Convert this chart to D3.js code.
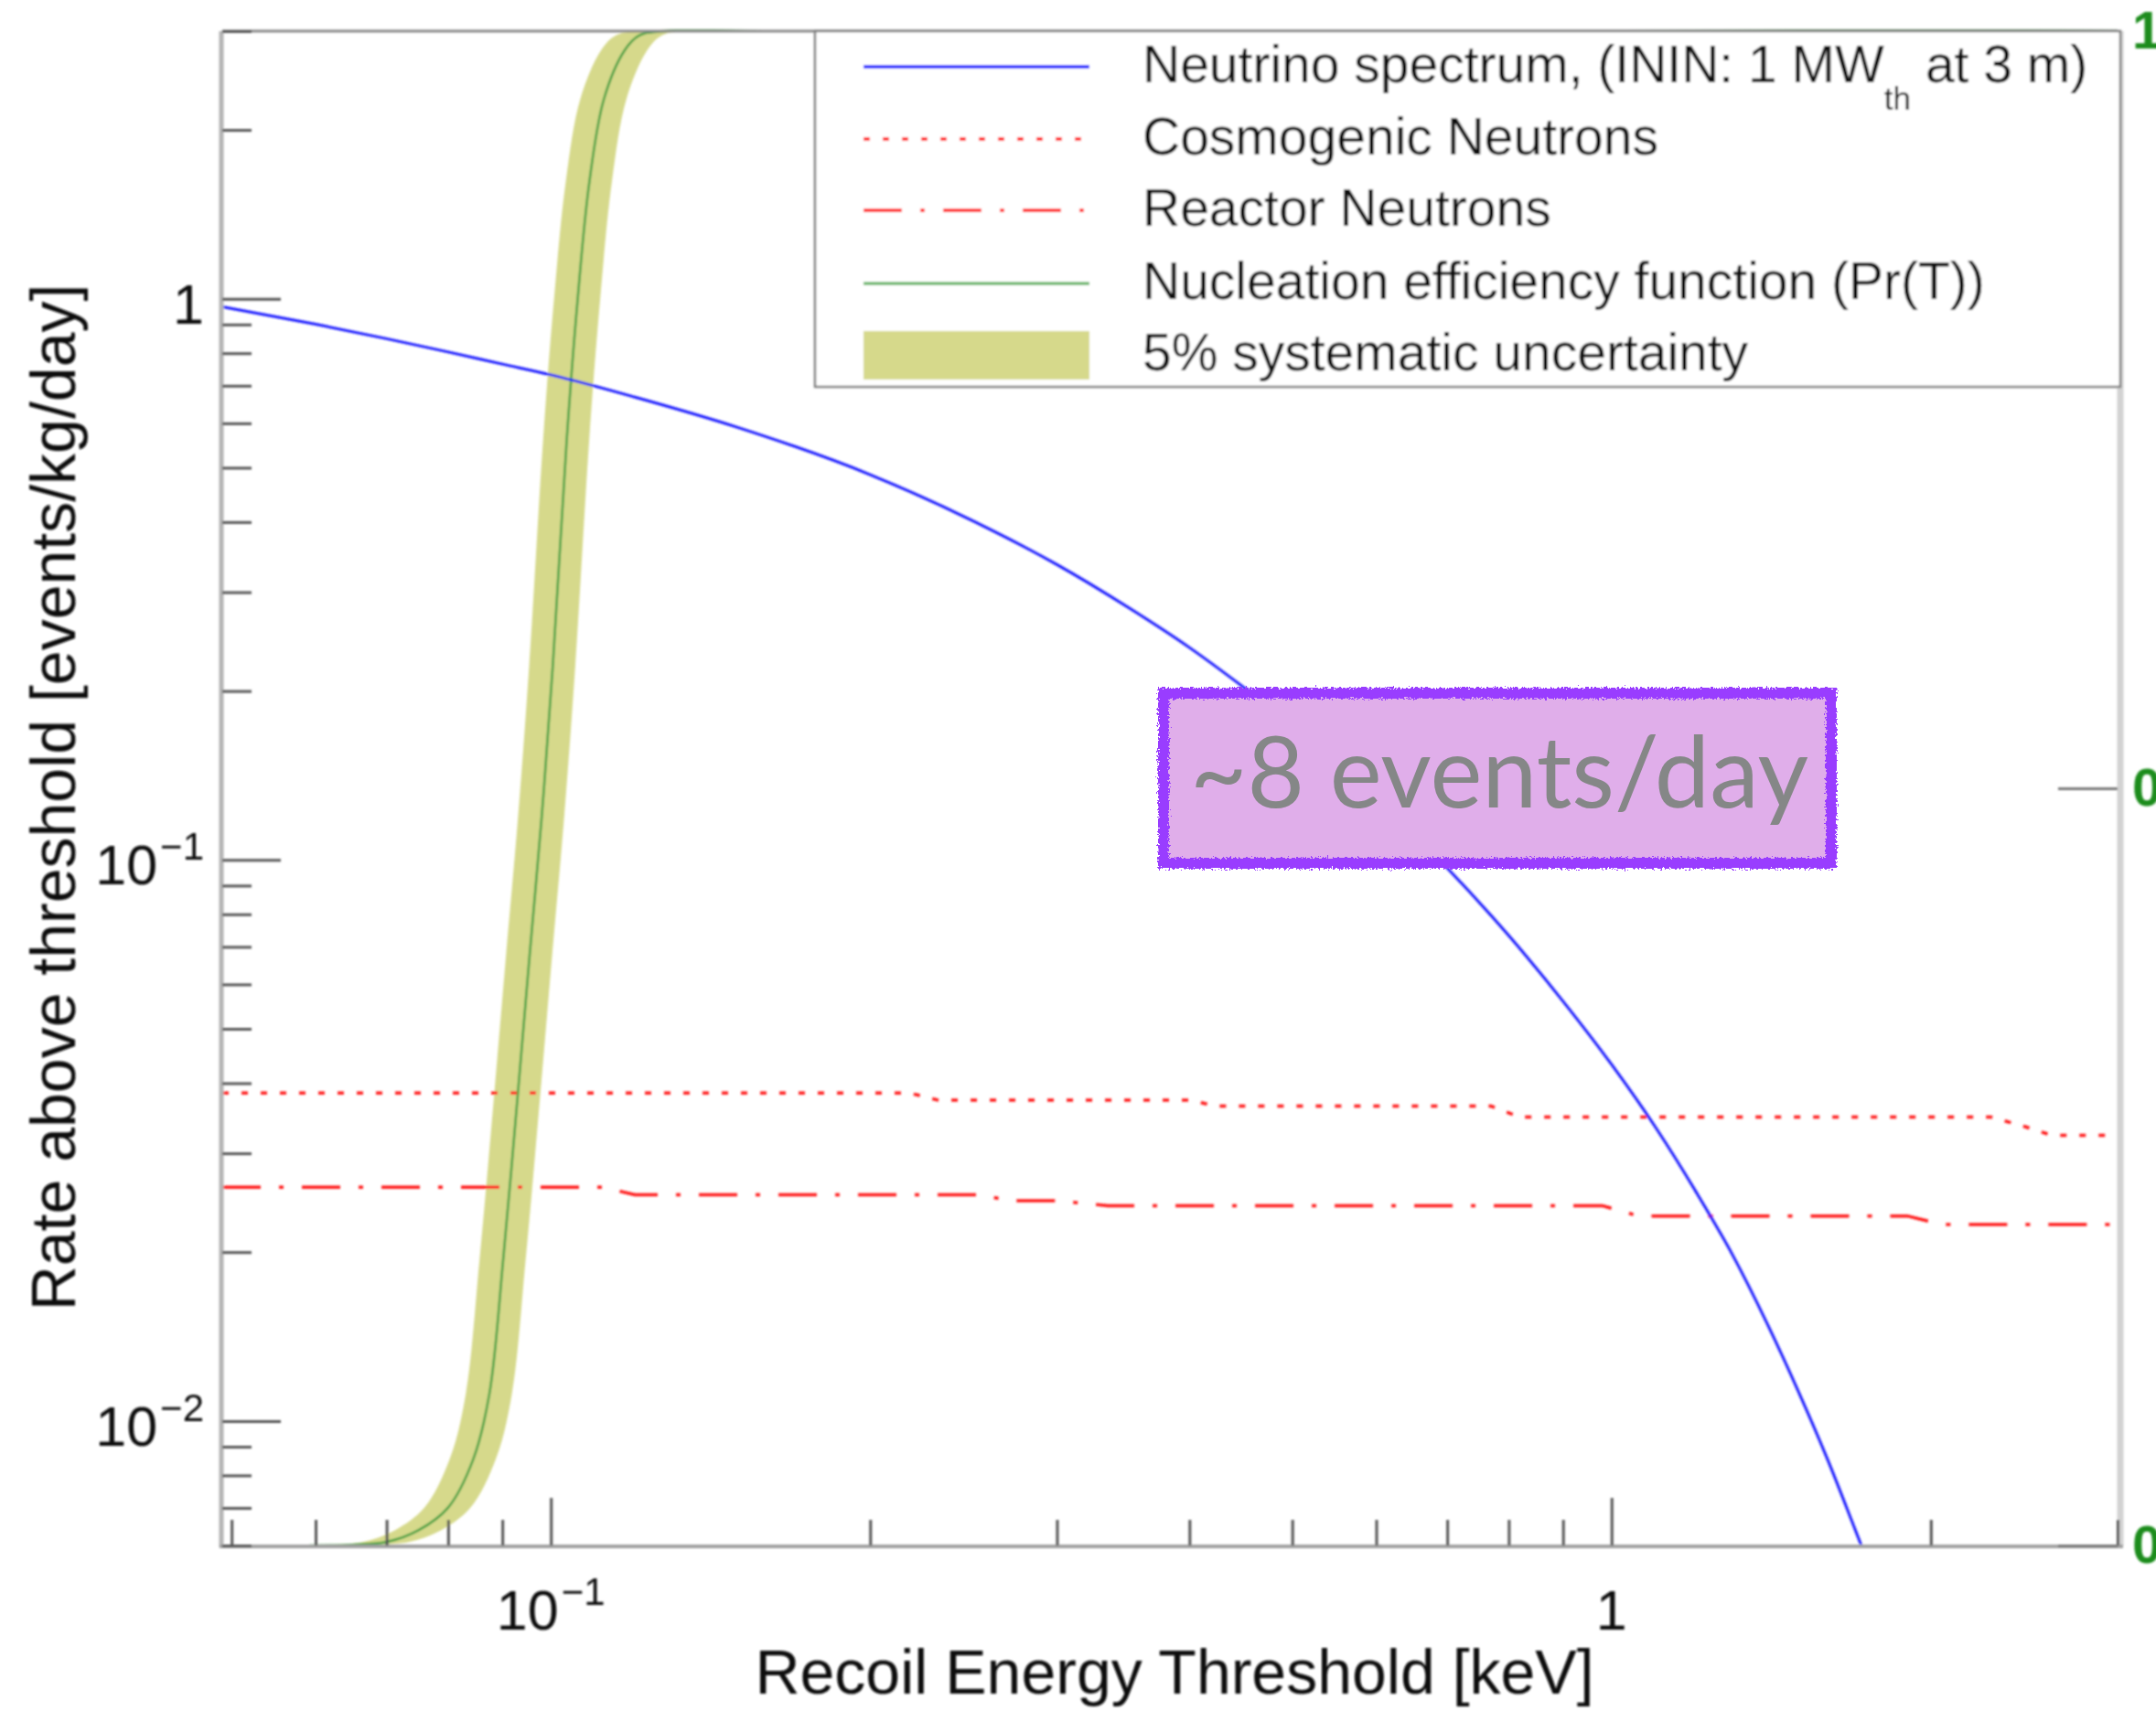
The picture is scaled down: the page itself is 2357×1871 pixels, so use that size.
<!DOCTYPE html>
<html><head><meta charset="utf-8">
<script src="https://cdn.jsdelivr.net/npm/d3@7"></script>
<style>html,body{margin:0;padding:0;background:#fff;} svg{display:block;}</style>
</head><body>
<script>
// ---------- data ----------
const nuEnergy = [0.049,0.06,0.07,0.08,0.09,0.1,0.12,0.15,0.2,0.25,0.3,0.35,0.4,0.45,0.5,0.6,0.7,0.8,0.9,1.0,1.1,1.2,1.3,1.4,1.5,1.6,1.7,1.72];
const nuRate   = [0.968,0.901,0.849,0.804,0.765,0.732,0.668,0.590,0.486,0.402,0.336,0.282,0.239,0.203,0.174,0.1285,0.0967,0.0733,0.0560,0.0432,0.0334,0.0257,0.0198,0.0150,0.0113,0.0085,0.00635,0.0060];

const cosmoEnergy = [0.049,0.218,0.232,0.40,0.425,0.77,0.82,2.28,2.45,2.6,3.0];
const cosmoRate   = [0.0384,0.0384,0.0373,0.0373,0.0364,0.0364,0.0348,0.0348,0.0335,0.0323,0.0323];

const reactorEnergy = [0.049,0.112,0.12,0.255,0.27,0.30,0.335,0.98,1.06,1.9,2.05,3.0];
const reactorRate   = [0.0261,0.0261,0.0253,0.0253,0.0247,0.0247,0.0242,0.0242,0.0232,0.0232,0.0224,0.0224];

// nucleation efficiency Pr(T) (right axis, 0..1)
const prEnergy = [0.0592,0.065,0.0701,0.075,0.080,0.0845,0.0875,0.0902,0.093,0.0955,0.098,0.1004,0.1035,0.1059,0.1087,0.1122,0.1173,0.1211,0.128,3.0];
const prValue  = [0,0.0005,0.0024,0.010,0.025,0.057,0.10,0.19,0.295,0.39,0.48,0.58,0.73,0.82,0.90,0.955,0.987,0.997,1.0,1.0];
// 5% systematic band edges (threshold -5% / +5%)
const bandLowEnergy  = [0.05624,0.06175,0.0666,0.07125,0.076,0.08028,0.08313,0.08569,0.08835,0.09073,0.0931,0.09538,0.09833,0.1006,0.10327,0.10659,0.11144,0.11505,0.1216,2.85];
const bandHighEnergy = [0.06216,0.06825,0.07361,0.07875,0.084,0.08873,0.09188,0.09471,0.09765,0.10028,0.1029,0.10542,0.10868,0.1112,0.11414,0.11781,0.12317,0.12716,0.1344,3.15];

const xMajorTicks = [0.1, 1];
const xMajorBase  = ["10", "1"];
const xMajorExp   = ["\u22121", ""];
const xMinorTicks = [0.05,0.06,0.07,0.08,0.09,0.2,0.3,0.4,0.5,0.6,0.7,0.8,0.9,2,3];
const yMajorTicks = [0.01, 0.1, 1];
const yMajorBase  = ["10", "10", "1"];
const yMajorExp   = ["\u22122", "\u22121", ""];
const yMinorTicks = [0.006,0.007,0.008,0.009,0.02,0.03,0.04,0.05,0.06,0.07,0.08,0.09,0.2,0.3,0.4,0.5,0.6,0.7,0.8,0.9,2,3];
const rightTicks  = [0, 0.5, 1];

const legendLabels = ["Cosmogenic Neutrons","Reactor Neutrons","Nucleation efficiency function (Pr(T))","5% systematic uncertainty"];
const annotationText = "~8 events/day";

// ---------- layout ----------
const W = 2357, H = 1871;
const L = 243, R = 2315, T = 34, B = 1690;
const x  = d3.scaleLog().domain([0.049, 3]).range([L, R]);
const y  = d3.scaleLog().domain([0.006, 3]).range([B, T]);
const yr = d3.scaleLinear().domain([0, 1]).range([B, T]);

const svg = d3.select("body").append("svg").attr("width", W).attr("height", H)
  .style("font-family", "'Liberation Sans', Arial, Helvetica, sans-serif");
svg.append("rect").attr("width", W).attr("height", H).attr("fill", "#fff");

const defs = svg.append("defs");
defs.append("clipPath").attr("id", "plotclip").append("rect")
  .attr("x", L).attr("y", T - 2).attr("width", R - L).attr("height", B - T + 4);
const soft = defs.append("filter").attr("id", "soft").attr("x", "-5%").attr("y", "-5%").attr("width", "110%").attr("height", "110%");
soft.append("feGaussianBlur").attr("stdDeviation", 1.1);
const rough = defs.append("filter").attr("id", "rough").attr("x", "-10%").attr("y", "-20%").attr("width", "120%").attr("height", "140%");
rough.append("feTurbulence").attr("type", "fractalNoise").attr("baseFrequency", 0.45).attr("numOctaves", 2).attr("seed", 3).attr("result", "noise");
rough.append("feDisplacementMap").attr("in", "SourceGraphic").attr("in2", "noise").attr("scale", 8)
  .attr("xChannelSelector", "R").attr("yChannelSelector", "G");

const chart = svg.append("g").attr("filter", "url(#soft)");
const plot = chart.append("g").attr("clip-path", "url(#plotclip)");

// band: left edge up, right edge back down
const edgeLine = d3.line().curve(d3.curveCatmullRom.alpha(0.5));
const leftEdge  = prValue.map((v, i) => [x(bandLowEnergy[i]), yr(v)]);
const rightEdge = prValue.map((v, i) => [x(bandHighEnergy[i]), yr(v)]).reverse();
plot.append("path")
  .attr("d", edgeLine(leftEdge) + "L" + edgeLine(rightEdge).slice(1) + "Z")
  .attr("fill", "#d6d98b").attr("stroke", "none");

// green efficiency line
plot.append("path")
  .datum(prEnergy.map((e, i) => [e, prValue[i]]))
  .attr("d", d3.line().x(d => x(d[0])).y(d => yr(d[1])).curve(d3.curveCatmullRom.alpha(0.5)))
  .attr("fill", "none").attr("stroke", "#3f9f3f").attr("stroke-width", 2.5);

// cosmogenic neutrons (dotted)
plot.append("path")
  .datum(cosmoEnergy.map((e, i) => [e, cosmoRate[i]]))
  .attr("d", d3.line().x(d => x(d[0])).y(d => y(d[1])))
  .attr("fill", "none").attr("stroke", "#ff1a1a").attr("stroke-width", 3.5).attr("stroke-dasharray", "7,14");

// reactor neutrons (dash-dot)
plot.append("path")
  .datum(reactorEnergy.map((e, i) => [e, reactorRate[i]]))
  .attr("d", d3.line().x(d => x(d[0])).y(d => y(d[1])))
  .attr("fill", "none").attr("stroke", "#ff1a1a").attr("stroke-width", 3.5).attr("stroke-dasharray", "42,20,5,20");

// neutrino spectrum
plot.append("path")
  .datum(nuEnergy.map((e, i) => [e, nuRate[i]]))
  .attr("d", d3.line().x(d => x(d[0])).y(d => y(d[1])).curve(d3.curveMonotoneX))
  .attr("fill", "none").attr("stroke", "#1a1aff").attr("stroke-width", 3);

// ---------- frame ----------
chart.append("line").attr("x1", L).attr("x2", R).attr("y1", T).attr("y2", T).attr("stroke", "#8a8a8a").attr("stroke-width", 3);
chart.append("line").attr("x1", R + 3).attr("x2", R + 3).attr("y1", T).attr("y2", B).attr("stroke", "#d2d2d2").attr("stroke-width", 7);
chart.append("line").attr("x1", L - 1).attr("x2", L - 1).attr("y1", T).attr("y2", B + 2).attr("stroke", "#b4b4b4").attr("stroke-width", 5);
chart.append("line").attr("x1", L - 3).attr("x2", R + 6).attr("y1", B + 1).attr("y2", B + 1).attr("stroke", "#a0a0a0").attr("stroke-width", 4);

// ---------- axes ----------
function styleAxis(g) {
  g.select(".domain").remove();
  g.selectAll(".tick line").attr("stroke", "#555").attr("stroke-width", 3);
  g.selectAll(".tick text").remove();
}
chart.append("g").attr("transform", `translate(0,${B})`)
  .call(d3.axisBottom(x).tickValues(xMajorTicks).tickSize(-52).tickFormat("")).call(styleAxis);
chart.append("g").attr("transform", `translate(0,${B})`)
  .call(d3.axisBottom(x).tickValues(xMinorTicks).tickSize(-28).tickFormat("")).call(styleAxis);
chart.append("g").attr("transform", `translate(${L},0)`)
  .call(d3.axisLeft(y).tickValues(yMajorTicks).tickSize(-64).tickFormat("")).call(styleAxis);
chart.append("g").attr("transform", `translate(${L},0)`)
  .call(d3.axisLeft(y).tickValues(yMinorTicks).tickSize(-32).tickFormat("")).call(styleAxis);

// right (efficiency) axis
const rAx = chart.append("g").attr("transform", `translate(${R},0)`)
  .call(d3.axisRight(yr).tickValues(rightTicks).tickSize(-65).tickPadding(16).tickFormat(d3.format("~g")));
rAx.select(".domain").remove();
rAx.selectAll(".tick line").attr("stroke", "#777").attr("stroke-width", 3);
rAx.selectAll(".tick text").attr("fill", "#1a8c1a").attr("font-size", 58).attr("font-weight", "bold")
  .attr("font-family", "'Liberation Sans', Arial, sans-serif");

// tick labels
const yl = chart.append("g").attr("font-size", 61).attr("fill", "#111");
yMajorTicks.forEach((v, i) => {
  const t = yl.append("text").attr("x", 223).attr("y", y(v) + 27).attr("text-anchor", "end");
  t.append("tspan").text(yMajorBase[i]);
  if (yMajorExp[i]) t.append("tspan").attr("font-size", 42).attr("dy", -27).attr("dx", 3).text(yMajorExp[i]);
});
const xl = chart.append("g").attr("font-size", 61).attr("fill", "#111");
xMajorTicks.forEach((v, i) => {
  const t = xl.append("text").attr("x", x(v)).attr("y", 1782).attr("text-anchor", "middle");
  t.append("tspan").text(xMajorBase[i]);
  if (xMajorExp[i]) t.append("tspan").attr("font-size", 42).attr("dy", -27).attr("dx", 3).text(xMajorExp[i]);
});

// axis titles
chart.append("text").attr("x", (L + R) / 2 + 5).attr("y", 1852).attr("text-anchor", "middle")
  .attr("font-size", 68).attr("fill", "#111").text("Recoil Energy Threshold [keV]");
chart.append("text").attr("transform", "translate(82,872) rotate(-90)").attr("text-anchor", "middle")
  .attr("font-size", 68).attr("fill", "#111").text("Rate above threshold [events/kg/day]");

// ---------- legend ----------
const lg = chart.append("g");
lg.append("rect").attr("x", 891).attr("y", T).attr("width", R + 3 - 891).attr("height", 423 - T)
  .attr("fill", "#fff").attr("stroke", "#808080").attr("stroke-width", 2.5);
const rowY = [73, 152, 230, 310, 388];
const lx0 = 944, lx1 = 1191, tx = 1249;
lg.append("line").attr("x1", lx0).attr("x2", lx1).attr("y1", rowY[0]).attr("y2", rowY[0]).attr("stroke", "#1a1aff").attr("stroke-width", 4);
lg.append("line").attr("x1", lx0).attr("x2", lx1).attr("y1", rowY[1]).attr("y2", rowY[1]).attr("stroke", "#ff1a1a").attr("stroke-width", 4).attr("stroke-dasharray", "7,14");
lg.append("line").attr("x1", lx0).attr("x2", lx1).attr("y1", rowY[2]).attr("y2", rowY[2]).attr("stroke", "#ff1a1a").attr("stroke-width", 4).attr("stroke-dasharray", "42,20,5,20");
lg.append("line").attr("x1", lx0).attr("x2", lx1).attr("y1", rowY[3]).attr("y2", rowY[3]).attr("stroke", "#4caa4c").attr("stroke-width", 3);
lg.append("rect").attr("x", lx0).attr("y", 362).attr("width", lx1 - lx0).attr("height", 53).attr("fill", "#d6d98b");

const lt = lg.append("g").attr("font-size", 57).attr("fill", "#111");
const t0 = lt.append("text").attr("x", tx).attr("y", rowY[0] + 17);
t0.append("tspan").text("Neutrino spectrum, (ININ: 1 MW");
t0.append("tspan").attr("font-size", 35).attr("dy", 30).text("th");
t0.append("tspan").attr("dy", -30).text(" at 3 m)");
legendLabels.forEach((s, i) => {
  lt.append("text").attr("x", tx).attr("y", rowY[i + 1] + 17).text(s);
});

// ---------- annotation ----------
const an = svg.append("g");
an.append("rect").attr("x", 1272).attr("y", 758).attr("width", 730).attr("height", 186).attr("fill", "#e0aeea");
an.append("rect").attr("x", 1272).attr("y", 758).attr("width", 730).attr("height", 186)
  .attr("fill", "none").attr("stroke", "#993dff").attr("stroke-width", 12).attr("filter", "url(#rough)");
const at = an.append("text").attr("x", 1639).attr("y", 883).attr("text-anchor", "middle")
  .attr("font-family", "Lato, 'Open Sans', sans-serif").attr("font-size", 100).attr("fill", "#858787").text(annotationText);
const w = at.node().getComputedTextLength();
at.attr("font-size", 100 * 676 / w);
</script>
</body></html>
